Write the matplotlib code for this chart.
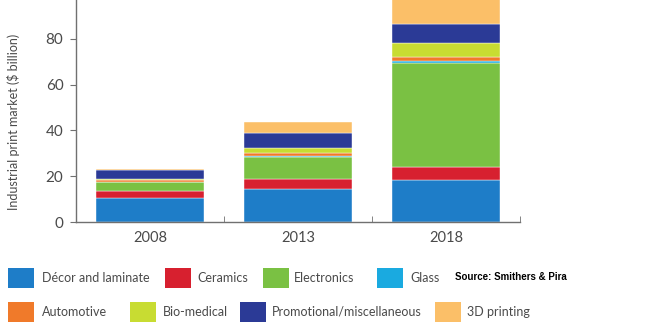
import matplotlib
matplotlib.use('Agg')
import matplotlib.pyplot as plt
from matplotlib.patches import Rectangle
import numpy as np

plt.rcParams['font.family'] = ['Lato', 'DejaVu Sans']

years = ['2008', '2013', '2018']
segments = ['Décor and laminate', 'Ceramics', 'Electronics', 'Glass',
            'Automotive', 'Bio-medical', 'Promotional/miscellaneous', '3D printing']
colors = ['#1e7dc8', '#d7202f', '#7ac143', '#1aaae0',
          '#f07a2a', '#c8dc32', '#2b3a96', '#fbbf68']

# market size by segment, $ billion
decor = [10.6, 14.6, 18.4]
ceramics = [3.2, 4.3, 5.5]
electronics = [3.6, 9.4, 45.5]
glass = [0.3, 0.7, 0.8]
automotive = [0.8, 1.1, 2.0]
biomedical = [0.5, 2.3, 5.9]
promotional = [3.7, 6.6, 8.3]
printing3d = [0.4, 4.6, 12.5]
values = [decor, ceramics, electronics, glass, automotive, biomedical, promotional, printing3d]

yticks = [0, 20, 40, 60, 80]

fig = plt.figure(figsize=(6.66, 3.27), dpi=100)
ax = fig.add_axes([0.1141, 0.3202, 0.6667, 0.702])

x = np.arange(len(years))
bottom = np.zeros(len(years))
for vals, col, name in zip(values, colors, segments):
    ax.bar(x, vals, width=0.73, bottom=bottom, color=col, edgecolor='white',
           linewidth=0.3, label=name)
    bottom += np.array(vals)

ax.set_xlim(-0.5, 2.5)
ax.set_ylim(0, 100)
ax.set_xticks(x)
ax.set_xticklabels(years)
ax.set_xticks([0.5, 1.5, 2.5], minor=True)
ax.tick_params(axis='x', which='major', length=0, pad=6, labelsize=10.5, labelcolor='#4a4a4a')
ax.tick_params(axis='x', which='minor', length=4, direction='in', color='#707070')
ax.set_yticks(yticks)
ax.tick_params(axis='y', length=4, color='#707070', labelsize=11, labelcolor='#4a4a4a', pad=5)
for s in ['top', 'right']:
    ax.spines[s].set_visible(False)
for s in ['left', 'bottom']:
    ax.spines[s].set_color('#707070')
    ax.spines[s].set_linewidth(1.0)

fig.text(14 / 666, 1 - 122 / 327, 'Industrial print market ($ billion)', rotation=90,
         ha='center', va='center', fontsize=9, color='#4a4a4a')

# legend drawn by hand in two rows
W, H = 666.0, 327.0
rows = [
    [(8, 42), (165, 197), (263, 294), (377, 410)],
    [(8, 42), (130, 163), (240, 272), (435, 467)],
]
row_y = [278, 312]
k = 0
for r, row in enumerate(rows):
    for sx, tx in row:
        fig.patches.append(Rectangle((sx / W, 1 - (row_y[r] + 10) / H), 26 / W, 20 / H,
                                     transform=fig.transFigure, facecolor=colors[k],
                                     edgecolor='none'))
        fig.text(tx / W, 1 - row_y[r] / H, segments[k], ha='left', va='center',
                 fontsize=9, color='#4a4a4a')
        k += 1

fig.text(455 / W, 1 - 277 / H, 'Source: Smithers & Pira', ha='left', va='center',
         fontsize=7, fontweight='bold', color='black', family='Liberation Sans')

fig.savefig('out.png', dpi=100)
